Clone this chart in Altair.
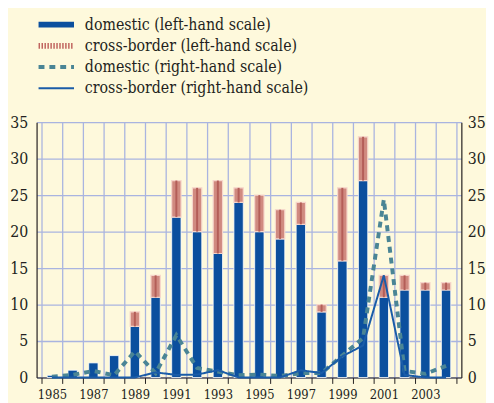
import altair as alt
import pandas as pd

years = list(range(1985, 2005))
domestic_lhs = [0.3, 1, 2, 3, 7, 11, 22, 20, 17, 24, 20, 19, 21, 9, 16, 27, 11, 12, 12, 12]
cross_lhs = [0, 0, 0, 0, 2, 3, 5, 6, 10, 2, 5, 4, 3, 1, 10, 6, 3, 2, 1, 1]
domestic_rhs = [0.1, 0.35, 0.9, 0.3, 3.6, 0.6, 5.8, 1.3, 0.8, 0.3, 0.4, 0.2, 0.6, 0.6, 3.0, 5.4, 24.4, 0.9, 0.5, 1.6]
cross_rhs = [0, 0, 0, 0, 0, 0.7, 0.35, 0.4, 1.0, 0, 0, 0, 1.0, 0.6, 2.9, 4.4, 14.0, 0.35, 0, 0]

series_names = [
    "domestic (left-hand scale)",
    "cross-border (left-hand scale)",
    "domestic (right-hand scale)",
    "cross-border (right-hand scale)",
]

BG = "#FEF9DC"
TXT = "#231F20"
GRID = "#A9B4E0"
FONT = "DejaVu Serif Condensed, DejaVu Serif"

bars = pd.DataFrame({"year": years, "dom": domestic_lhs, "cb": cross_lhs})
bars["total"] = bars["dom"] + bars["cb"]
bars_cb = bars[bars["cb"] > 0]

lines = pd.DataFrame({
    "year": years + years,
    "value": domestic_rhs + cross_rhs,
    "series": [series_names[2]] * len(years) + [series_names[3]] * len(years),
})

xvals = [1984.5 + 0.5 * i for i in range(41)]
half_only = {"condition": {"test": "datum.value % 1 === 0", "value": 0}, "value": 1}
x_axis = alt.Axis(
    values=xvals,
    labelExpr="datum.value % 2 === 1 ? datum.value : ''",
    labelOverlap=False, labelFlush=False,
    grid=True, gridColor=GRID, gridWidth=1.3, gridOpacity=half_only,
    tickOpacity=half_only, tickSize=6, tickColor=TXT, tickWidth=1,
    domainColor=TXT, domainWidth=1.2,
    labelFont=FONT, labelFontSize=13, labelColor=TXT, labelPadding=5,
    title=None,
)
x = alt.X("year:Q", scale=alt.Scale(domain=[1984.5, 2004.5], nice=False, zero=False), axis=x_axis)

yvals = list(range(0, 36, 5))
yl_axis = alt.Axis(
    values=yvals, grid=True, gridColor=GRID, gridWidth=1.3, ticks=False,
    labelPadding=9, domainColor=TXT, domainWidth=1.2,
    labelFont=FONT, labelFontSize=16, labelColor=TXT, title=None,
)
yr_axis = alt.Axis(
    orient="right", values=yvals, grid=False, ticks=False,
    labelPadding=6, domainColor=TXT, domainWidth=1.2,
    labelFont=FONT, labelFontSize=16, labelColor=TXT, title=None,
)
yscale = alt.Scale(domain=[0, 35], nice=False, zero=True)

dom_bar = alt.Chart(bars).mark_bar(size=9.5, color="#0B4F9E", stroke="#FFFFFF", strokeWidth=0.8).encode(
    x=x, y=alt.Y("dom:Q", scale=yscale, axis=yl_axis)
)
cb_bar = alt.Chart(bars_cb).mark_bar(size=9.5, color="#D08A80", stroke="#F6D6CB", strokeWidth=1.2).encode(
    x=x, y=alt.Y("dom:Q", scale=yscale, axis=yl_axis), y2="total:Q"
)
cb_stripe = alt.Chart(bars_cb).mark_bar(size=2, color="#B45E58").encode(
    x=x, y=alt.Y("dom:Q", scale=yscale, axis=yl_axis), y2="total:Q"
)
left_layer = alt.layer(dom_bar, cb_bar, cb_stripe)

line_layer = alt.Chart(lines).mark_line().encode(
    x=x,
    y=alt.Y("value:Q", scale=yscale, axis=yr_axis),
    color=alt.Color("series:N", scale=alt.Scale(domain=series_names,
                    range=["#0B4F9E", "#C0645E", "#4A8595", "#1A5CA8"]),
                    legend=alt.Legend(title=None)),
    strokeDash=alt.StrokeDash("series:N", scale=alt.Scale(domain=series_names,
                    range=[[1, 0], [1.5, 1.5], [6, 5], [1, 0]]),
                    legend=alt.Legend(title=None)),
    strokeWidth=alt.StrokeWidth("series:N", scale=alt.Scale(type="ordinal", domain=series_names,
                    range=[6, 6, 4, 2]),
                    legend=alt.Legend(title=None)),
)

chart = alt.layer(left_layer, line_layer).resolve_scale(y="independent").properties(
    width=431, height=259, background=BG,
    padding={"left": 1, "top": 6, "right": 0, "bottom": 0},
    usermeta={"embedOptions": {"defaultStyle": "body{background:#FEF9DC}"}},
).configure_view(strokeWidth=0).configure_legend(
    orient="none", legendX=-1, legendY=-107, padding=0,
    symbolType="stroke", symbolSize=1296, clipHeight=16, rowPadding=5.5,
    labelFont=FONT, labelFontSize=16, labelColor=TXT, labelOffset=8, labelLimit=400,
)

chart.save("out.html", embed_options={"renderer": "svg", "actions": False})
